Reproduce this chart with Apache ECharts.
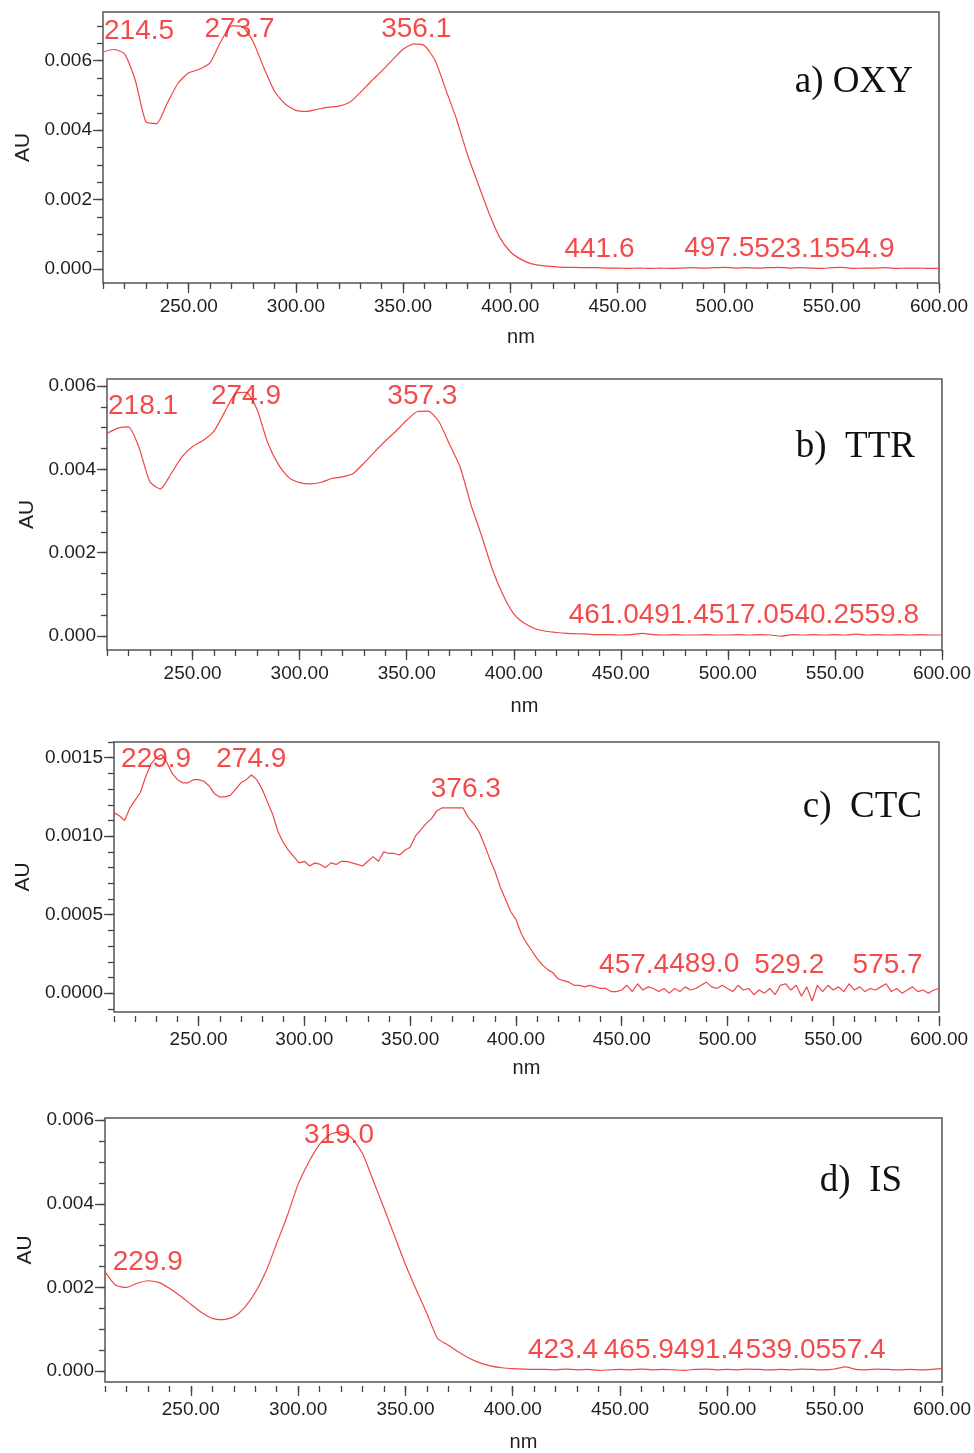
<!DOCTYPE html>
<html><head><meta charset="utf-8">
<script src="https://cdn.jsdelivr.net/npm/echarts@6/dist/echarts.min.js"></script>
<style>
html,body{margin:0;padding:0;background:#fff;}
.c{position:absolute;left:0;top:0;width:974px;height:1453px;}
</style>
</head><body>
<div id="pa" class="c"></div>
<div id="pb" class="c"></div>
<div id="pc" class="c"></div>
<div id="pd" class="c"></div>
<script>
// ---------------- DATA ----------------
const waveStartNm = 210;
const waveStepNm = 5;      // OXY, TTR, IS sampling
const ctcStepNm = 2.5;     // CTC sampling

const oxyAU = [
 0.00625,0.00632,0.00620,0.00545,0.00424,0.00419,0.00478,0.00535,0.00565,0.00575,
 0.00594,0.00655,0.00700,0.00698,0.00655,0.00580,0.00512,0.00475,0.00457,0.00454,
 0.00460,0.00466,0.00469,0.00480,0.00508,0.00540,0.00570,0.00602,0.00633,0.00648,
 0.00643,0.00600,0.00515,0.00430,0.00330,0.00245,0.00162,0.00092,0.00050,0.00028,
 0.00015,0.00010,0.00007,
 0.00005,0.00005,0.00004,0.00004,0.00003,0.00003,0.00002,0.00003,0.00002,0.00003,
 0.00002,0.00003,0.00004,0.00003,0.00004,0.00005,0.00003,0.00004,0.00003,0.00004,
 0.00005,0.00003,0.00004,0.00003,0.00002,0.00004,0.00005,0.00002,0.00003,0.00003,
 0.00004,0.00002,0.00003,0.00003,0.00002,0.00002
];
const ttrAU = [
 0.00486,0.00499,0.00502,0.00452,0.00370,0.00353,0.00390,0.00430,0.00455,0.00470,
 0.00492,0.00538,0.00582,0.00585,0.00545,0.00465,0.00412,0.00380,0.00368,0.00365,
 0.00369,0.00378,0.00382,0.00390,0.00415,0.00442,0.00468,0.00492,0.00518,0.00539,
 0.00540,0.00515,0.00460,0.00405,0.00315,0.00240,0.00160,0.00098,0.00053,0.00030,
 0.00017,0.00011,0.00008,
 0.00006,0.00005,0.00004,0.00003,0.00003,0.00002,0.00003,0.00006,0.00003,0.00002,
 0.00003,0.00002,0.00002,0.00003,0.00002,0.00002,0.00003,0.00002,0.00003,0.00002,
 -0.00001,0.00003,0.00002,0.00003,0.00002,0.00003,0.00002,0.00004,0.00002,0.00003,
 0.00002,0.00003,0.00002,0.00003,0.00002,0.00002
];
const ctcAU = [
 0.00115,0.00113,0.00110,0.00118,0.00123,0.00128,0.00138,0.00146,0.00150,0.00152,
 0.00147,0.00140,0.00136,0.00134,0.00134,0.00136,0.00136,0.00135,0.00132,0.00127,
 0.00125,0.00125,0.00126,0.00130,0.00134,0.00136,0.00139,0.00136,0.00130,0.00122,
 0.00114,0.00103,0.00096,0.00091,0.00087,0.00083,0.00084,
 0.00081,0.00083,0.00082,0.00080,0.00083,0.00082,0.00084,0.00084,0.00083,0.00082,
 0.00081,0.00084,0.00087,0.00084,0.00090,0.00089,0.00089,0.00088,0.00091,0.00093,
 0.00100,0.00104,0.00108,0.00111,0.00116,0.00118,0.00118,0.00118,0.00118,0.00118,
 0.00112,0.00108,0.00103,0.00095,0.00086,0.00078,0.00068,0.00060,0.00052,0.00047,
 0.00038,0.00032,0.00027,0.00022,0.00018,0.00015,0.00013,0.00009,0.00008,0.00007,
 0.00005,0.00005,0.00004,0.00005,0.00004,0.00003,0.00003,0.00001,0.00001,0.00002,
 0.00005,0.00001,0.00006,0.00002,0.00004,0.00003,0.00001,0.00003,0.00000,0.00003,
 0.00001,0.00004,0.00002,0.00003,0.00005,0.00007,0.00004,0.00003,0.00005,0.00003,
 0.00001,0.00005,0.00002,0.00003,-0.00001,0.00002,0.00000,0.00003,-0.00001,0.00005,
 0.00006,0.00002,0.00005,-0.00002,0.00004,-0.00005,0.00005,0.00001,0.00005,0.00002,
 0.00004,0.00001,0.00006,0.00002,0.00004,0.00001,0.00003,0.00002,0.00004,0.00006,
 0.00001,0.00003,0.00000,0.00002,0.00004,0.00001,0.00002,0.00000,0.00002,0.00003
];
const isAU = [
 0.00238,0.00205,0.00200,0.00210,0.00216,0.00212,0.00198,0.00180,0.00160,0.00140,
 0.00126,0.00123,0.00130,0.00152,0.00188,0.00238,0.00305,0.00372,0.00447,0.00500,
 0.00542,0.00566,0.00572,0.00557,0.00520,0.00455,0.00390,0.00322,0.00255,0.00195,
 0.00138,0.00078,0.00062,0.00045,0.00030,0.00019,0.00012,0.00008,0.00006,0.00005,
 0.00004,0.00004,0.00003,
 0.00005,0.00003,0.00004,0.00002,0.00003,0.00004,0.00003,0.00005,0.00003,0.00004,
 0.00003,0.00002,0.00004,0.00005,0.00003,0.00004,0.00003,0.00005,0.00004,0.00003,
 0.00004,0.00003,0.00005,0.00004,0.00003,0.00005,0.00010,0.00004,0.00003,0.00005,
 0.00004,0.00003,0.00004,0.00003,0.00004,0.00006
];

// peak wavelengths and their heights (height also sets label priority)
const oxyPeakNm = [214.5, 273.7, 356.1, 441.6, 497.5, 523.1, 554.9];
const oxyPeakAU = [0.00632, 0.00707, 0.00648, 0.00004, 0.000055, 0.00005, 0.000045];
const ttrPeakNm = [218.1, 274.9, 357.3, 461.0, 491.4, 517.0, 540.2, 559.8];
const ttrPeakAU = [0.00506, 0.00589, 0.00542, 0.00004, 0.000045, 0.00005, 0.000055, 0.00005];
const ctcPeakNm = [229.9, 274.9, 376.3, 457.4, 489.0, 529.2, 575.7];
const ctcPeakAU = [0.00152, 0.00139, 0.00118, 0.00006, 0.000065, 0.00006, 0.00006];
const isPeakNm = [229.9, 319.0, 423.4, 465.9, 491.4, 539.0, 557.4];
const isPeakAU = [0.00216, 0.00574, 0.00005, 0.00005, 0.000055, 0.00006, 0.000065];

const xMajorTicks = [250, 300, 350, 400, 450, 500, 550, 600];
const xMinorTicks = [210,220,230,240,250,260,270,280,290,300,310,320,330,340,350,360,370,380,390,400,
                     410,420,430,440,450,460,470,480,490,500,510,520,530,540,550,560,570,580,590,600];
const yMajorTicksA = [0, 0.002, 0.004, 0.006];
const yMinorTicksA = [0,0.0005,0.001,0.0015,0.002,0.0025,0.003,0.0035,0.004,0.0045,0.005,0.0055,0.006,0.0065,0.007];
const yMajorTicksB = [0, 0.002, 0.004, 0.006];
const yMinorTicksB = [0,0.0005,0.001,0.0015,0.002,0.0025,0.003,0.0035,0.004,0.0045,0.005,0.0055,0.006];
const yMajorTicksC = [0, 0.0005, 0.001, 0.0015];
const yMinorTicksC = [-0.0001,0,0.0001,0.0002,0.0003,0.0004,0.0005,0.0006,0.0007,0.0008,0.0009,0.001,0.0011,0.0012,0.0013,0.0014,0.0015,0.0016];
const yMajorTicksD = [0, 0.002, 0.004, 0.006];
const yMinorTicksD = [0,0.0005,0.001,0.0015,0.002,0.0025,0.003,0.0035,0.004,0.0045,0.005,0.0055,0.006];

// ---------------- RENDER ----------------
const SANS = '"Liberation Sans", Arial, sans-serif';
const SERIF = '"Liberation Serif", "Times New Roman", serif';
const TXT = '#1e1e1e';
const RED = '#f01e1e';
const LINE = '#f04646';
const LABEL_FS = 28;
const AX_FS = 19;

const measureCtx = document.createElement('canvas').getContext('2d');
function textWidth(t) { measureCtx.font = LABEL_FS + 'px ' + SANS; return measureCtx.measureText(t).width; }

function toPairs(vals, step) { return vals.map((v, i) => [waveStartNm + i * step, v]); }

function buildPanel(elId, cfg) {
  const chart = echarts.init(document.getElementById(elId));
  const g = cfg.grid;
  const xBase = {
    type: 'value', min: 210, max: 600, position: 'bottom', offset: cfg.xOffset,
    axisLine: { show: false, onZero: false }, splitLine: { show: false }
  };
  const yBase = {
    type: 'value', min: cfg.yMin, max: cfg.yMax, position: 'left',
    axisLine: { show: false, onZero: false }, splitLine: { show: false }
  };
  const tickStyle = { color: '#444', width: 1.3 };
  let labelX = null;
  const labelLayout = function (p) {
    const r = p.labelRect;
    return {
      x: labelX ? labelX[p.dataIndex] : Math.max(r.x, g.left + 1),
      y: Math.max(r.y, g.top + 3), verticalAlign: 'top', align: 'left'
    };
  };
  const option = {
    animation: false,
    grid: { left: g.left, top: g.top, width: g.width, height: g.height, show: true,
            borderColor: '#555', borderWidth: 1.5, backgroundColor: 'transparent' },
    xAxis: [
      Object.assign({}, xBase, {
        name: 'nm', nameLocation: 'middle', nameGap: cfg.nmGap,
        nameTextStyle: { color: TXT, fontSize: 20, fontFamily: SANS },
        axisTick: { show: true, length: 10, lineStyle: tickStyle, customValues: xMajorTicks },
        axisLabel: { show: true, margin: 14, color: TXT, fontSize: AX_FS, fontFamily: SANS,
                     customValues: xMajorTicks, formatter: v => v.toFixed(2) }
      }),
      Object.assign({}, xBase, {
        axisTick: { show: true, length: 6, lineStyle: tickStyle, customValues: xMinorTicks },
        axisLabel: { show: false }
      })
    ],
    yAxis: [
      Object.assign({}, yBase, {
        name: 'AU', nameLocation: 'middle', nameGap: cfg.auGap,
        nameTextStyle: { color: TXT, fontSize: 21, fontFamily: SANS },
        axisTick: { show: true, length: 10, lineStyle: tickStyle, customValues: cfg.yMajor },
        axisLabel: { show: true, margin: 11, color: TXT, fontSize: AX_FS, fontFamily: SANS,
                     customValues: cfg.yMajor, formatter: v => v.toFixed(cfg.yDec) }
      }),
      Object.assign({}, yBase, {
        axisTick: { show: true, length: 6, lineStyle: tickStyle, customValues: cfg.yMinor },
        axisLabel: { show: false }
      })
    ],
    series: [
      { type: 'line', xAxisIndex: 0, yAxisIndex: 0, data: cfg.line, symbol: 'none',
        smooth: cfg.smooth, lineStyle: { color: LINE, width: 1.2 }, silent: true, z: 2 },
      { type: 'scatter', xAxisIndex: 0, yAxisIndex: 0, symbol: 'circle', symbolSize: 1,
        itemStyle: { color: 'rgba(0,0,0,0)' }, silent: true, z: 3,
        data: cfg.peakNm.map((nm, i) => [nm, cfg.peakAU[i]]),
        label: { show: true, position: 'top', distance: 4, color: RED, fontSize: LABEL_FS,
                 fontFamily: SANS, formatter: p => p.value[0].toFixed(1) },
        labelLayout: labelLayout }
    ],
    graphic: [{ type: 'text', x: cfg.tagRight, y: cfg.tagMid, silent: true,
      style: { text: cfg.tag, font: '37px ' + SERIF, fill: '#111', align: 'right', verticalAlign: 'middle' } }]
  };
  chart.setOption(option);

  // Peak labels: taller peaks keep their place, others move to the nearest free slot
  const items = cfg.peakNm.map((nm, i) => {
    const px = chart.convertToPixel({ seriesIndex: 1 }, [nm, cfg.peakAU[i]]);
    const w = textWidth(nm.toFixed(1));
    return { i: i, ideal: Math.max(px[0] - w / 2, g.left + 1), w: w, y: px[1], h: cfg.peakAU[i] };
  });
  const order = items.slice().sort((a, b) => b.h - a.h);
  const placed = [];
  labelX = [];
  order.forEach(it => {
    const row = placed.filter(p => Math.abs(p.y - it.y) < 40);
    const cands = [it.ideal];
    row.forEach(p => { cands.push(p.x + p.w); cands.push(p.x - it.w); });
    let best = null;
    cands.forEach(cx => {
      if (cx < g.left + 1) return;
      const ok = row.every(p => cx + it.w <= p.x + 0.01 || cx >= p.x + p.w - 0.01);
      if (ok && (best === null || Math.abs(cx - it.ideal) < Math.abs(best - it.ideal))) best = cx;
    });
    if (best === null) best = it.ideal;
    labelX[it.i] = best;
    placed.push({ x: best, w: it.w, y: it.y });
  });
  const newLayout = function (p) { return labelLayout(p); };
  chart.setOption({ series: [{}, { labelLayout: newLayout }] });
}

buildPanel('pa', { grid: { left: 103, top: 12, width: 836, height: 271 }, xOffset: 0,
  yMin: -0.0004, yMax: 0.0074, yMajor: yMajorTicksA, yMinor: yMinorTicksA, yDec: 3,
  auGap: 61, nmGap: 44, line: toPairs(oxyAU, waveStepNm), smooth: 0.2,
  peakNm: oxyPeakNm, peakAU: oxyPeakAU, tag: 'a) OXY', tagRight: 913, tagMid: 82 });
buildPanel('pb', { grid: { left: 107, top: 379, width: 835, height: 271 }, xOffset: 0,
  yMin: -0.00034, yMax: 0.00617, yMajor: yMajorTicksB, yMinor: yMinorTicksB, yDec: 3,
  auGap: 63, nmGap: 46, line: toPairs(ttrAU, waveStepNm), smooth: 0.2,
  peakNm: ttrPeakNm, peakAU: ttrPeakAU, tag: 'b)  TTR', tagRight: 915, tagMid: 447 });
buildPanel('pc', { grid: { left: 114, top: 742, width: 825, height: 270 }, xOffset: 4,
  yMin: -0.00012, yMax: 0.0016, yMajor: yMajorTicksC, yMinor: yMinorTicksC, yDec: 4,
  auGap: 72, nmGap: 42, line: toPairs(ctcAU, ctcStepNm), smooth: false,
  peakNm: ctcPeakNm, peakAU: ctcPeakAU, tag: 'c)  CTC', tagRight: 922, tagMid: 807 });
buildPanel('pd', { grid: { left: 105, top: 1118, width: 837, height: 270 }, xOffset: 4,
  yMin: -0.00026, yMax: 0.00605, yMajor: yMajorTicksD, yMinor: yMinorTicksD, yDec: 3,
  auGap: 62, nmGap: 46, line: toPairs(isAU, waveStepNm), smooth: 0.2,
  peakNm: isPeakNm, peakAU: isPeakAU, tag: 'd)  IS', tagRight: 902, tagMid: 1181 });
</script>
</body></html>
